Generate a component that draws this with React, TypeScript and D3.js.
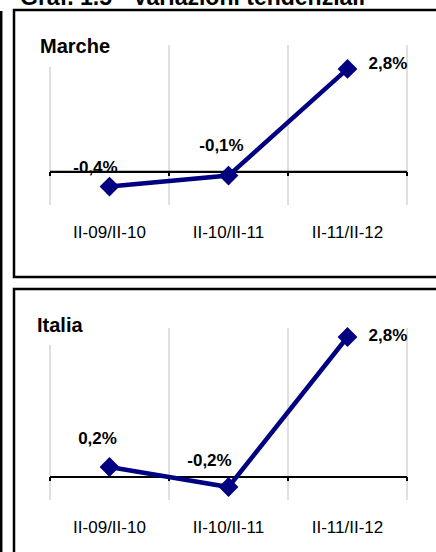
import * as d3 from "d3";
import React, { useEffect, useRef } from "react";

const categories = ["II-09/II-10", "II-10/II-11", "II-11/II-12"];
const marcheValues = [-0.4, -0.1, 2.8];
const italiaValues = [0.2, -0.2, 2.8];
const marcheLabels = ["-0,4%", "-0,1%", "2,8%"];
const italiaLabels = ["0,2%", "-0,2%", "2,8%"];
const titleText = "Graf. 1.5 - Variazioni tendenziali";

const FONT = "Arial, 'Liberation Sans', sans-serif";
const NAVY = "#000080";

// label offsets from each marker
const panels = [
  {
    name: "Marche", values: marcheValues, labels: marcheLabels,
    frameTop: 10, frameBottom: 277, plotTop: 45, plotBottom: 205, domain: [-0.9, 3.45],
    titleY: 53.3, titleX: 40, maskBottom: 66.7,
    offsets: [[-14, -14, "middle"], [-7, -25, "middle"], [21, 0, "start"]],
  },
  {
    name: "Italia", values: italiaValues, labels: italiaLabels,
    frameTop: 289, frameBottom: 600, plotTop: 328, plotBottom: 500, domain: [-0.46, 2.98],
    titleY: 332, titleX: 37, maskBottom: 345,
    offsets: [[-12, -23, "middle"], [-19, -21, "middle"], [21, 4, "start"]],
  },
];

const drawChart = (el: SVGSVGElement) => {
  const svg = d3.select(el);
  svg.selectAll("*").remove();

  svg.append("rect").attr("width", 436).attr("height", 552).attr("fill", "#fff");

  // heading, cut off by the top edge as in the source
  svg.append("text")
    .attr("x", 20).attr("y", 5)
    .attr("font-family", FONT).attr("font-weight", "bold").attr("font-size", 23)
    .text(titleText);

  svg.append("line")
    .attr("x1", 1.2).attr("x2", 1.2).attr("y1", 11).attr("y2", 552)
    .attr("stroke", "#000").attr("stroke-width", 2.5);

  const x = d3.scaleBand().domain(categories).range([50, 407]);
  const edges = [...categories.map((c) => x(c) as number), 407];

  panels.forEach((p) => {
    const g = svg.append("g");
    g.append("rect")
      .attr("x", 14).attr("y", p.frameTop)
      .attr("width", 440).attr("height", p.frameBottom - p.frameTop)
      .attr("fill", "#fff").attr("stroke", "#000").attr("stroke-width", 2.5);

    const y = d3.scaleLinear().domain(p.domain).range([p.plotBottom, p.plotTop]);

    g.selectAll(".grid").data(edges).enter().append("line")
      .attr("x1", (d) => d).attr("x2", (d) => d)
      .attr("y1", p.plotTop).attr("y2", p.plotBottom)
      .attr("stroke", "#c0c0c0").attr("stroke-width", 1);

    // title box hides the top of the first gridline
    g.append("rect")
      .attr("x", p.titleX - 4).attr("y", p.titleY - 20)
      .attr("width", 80).attr("height", p.maskBottom - p.titleY + 20)
      .attr("fill", "#fff");
    g.append("text")
      .attr("x", p.titleX).attr("y", p.titleY)
      .attr("font-family", FONT).attr("font-weight", "bold").attr("font-size", 20)
      .text(p.name);

    const zero = y(0);
    g.append("line")
      .attr("x1", 50).attr("x2", 407).attr("y1", zero).attr("y2", zero)
      .attr("stroke", "#000").attr("stroke-width", 2.2);
    g.selectAll(".tick").data(edges).enter().append("line")
      .attr("x1", (d) => d).attr("x2", (d) => d)
      .attr("y1", zero).attr("y2", zero + 4)
      .attr("stroke", "#000").attr("stroke-width", 2);

    g.selectAll(".cat").data(categories).enter().append("text")
      .attr("x", (d) => (x(d) as number) + x.bandwidth() / 2)
      .attr("y", p.plotBottom + 32.5)
      .attr("text-anchor", "middle")
      .attr("font-family", FONT).attr("font-size", 17)
      .text((d) => d);

    const cx = (i: number) => (x(categories[i]) as number) + x.bandwidth() / 2;
    const line = d3.line<number>().x((_, i) => cx(i)).y((d) => y(d));
    g.append("path")
      .attr("d", line(p.values))
      .attr("fill", "none").attr("stroke", NAVY).attr("stroke-width", 4.5);

    const diamond = d3.symbol().type(d3.symbolSquare).size(196);
    g.selectAll(".pt").data(p.values).enter().append("path")
      .attr("d", diamond())
      .attr("transform", (d, i) => `translate(${cx(i)},${y(d)}) rotate(45)`)
      .attr("fill", NAVY);

    g.selectAll(".lbl").data(p.values).enter().append("text")
      .attr("x", (d, i) => cx(i) + (p.offsets[i][0] as number))
      .attr("y", (d, i) => y(d) + (p.offsets[i][1] as number))
      .attr("text-anchor", (d, i) => p.offsets[i][2] as string)
      .attr("font-family", FONT).attr("font-weight", "bold").attr("font-size", 17)
      .text((d, i) => p.labels[i]);
  });
};

export default function App() {
  const ref = useRef<SVGSVGElement>(null);
  useEffect(() => {
    if (ref.current) drawChart(ref.current);
  }, []);
  return (
    <svg ref={ref} width={436} height={552}
      style={{ position: "absolute", left: 0, top: 0, display: "block" }} />
  );
}
